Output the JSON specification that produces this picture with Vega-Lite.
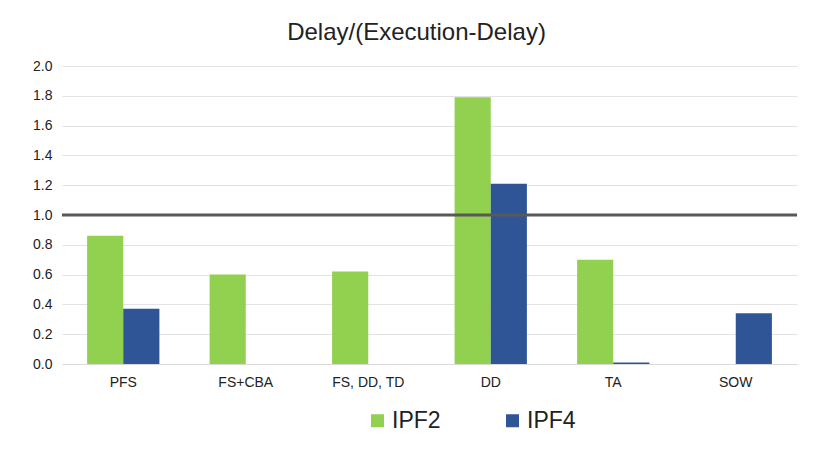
{
  "$schema": "https://vega.github.io/schema/vega-lite/v6.json",
  "autosize": "none",
  "width": 735,
  "height": 298,
  "padding": {"left": 62, "top": 66, "right": 19, "bottom": 86},
  "background": "white",
  "title": {"text": "Delay/(Execution-Delay)", "font": "Liberation Sans", "fontSize": 24, "fontWeight": "normal", "color": "#222222", "anchor": "middle", "offset": 14, "dx": -13},
  "config": {"view": {"stroke": null}, "font": "Liberation Sans"},
  "data": {"values": [
    {"cat": "PFS", "series": "IPF2", "value": 0.86},
    {"cat": "PFS", "series": "IPF4", "value": 0.37},
    {"cat": "FS+CBA", "series": "IPF2", "value": 0.60},
    {"cat": "FS+CBA", "series": "IPF4", "value": 0},
    {"cat": "FS, DD, TD", "series": "IPF2", "value": 0.62},
    {"cat": "FS, DD, TD", "series": "IPF4", "value": 0},
    {"cat": "DD", "series": "IPF2", "value": 1.79},
    {"cat": "DD", "series": "IPF4", "value": 1.21},
    {"cat": "TA", "series": "IPF2", "value": 0.70},
    {"cat": "TA", "series": "IPF4", "value": 0.01},
    {"cat": "SOW", "series": "IPF2", "value": 0},
    {"cat": "SOW", "series": "IPF4", "value": 0.34}
  ]},
  "encoding": {
    "y": {"field": "value", "type": "quantitative",
      "scale": {"domain": [0, 2.0], "nice": false},
      "axis": {"title": null, "tickCount": 20, "values": [0, 0.2, 0.4, 0.6, 0.8, 1.0, 1.2, 1.4, 1.6, 1.8, 2.0], "format": ".1f", "labelOverlap": false, "labelFontSize": 14, "labelColor": "#222222", "labelPadding": 10, "ticks": false, "domain": false, "gridColor": "#e3e3e3", "gridWidth": 1}}
  },
  "layer": [
    {
      "mark": {"type": "bar"},
      "encoding": {
        "x": {"field": "cat", "type": "nominal", "sort": null,
          "scale": {"paddingInner": 0.41, "paddingOuter": 0.205},
          "axis": {"title": null, "labelAngle": 0, "labelFontSize": 14, "labelColor": "#222222", "labelPadding": 11, "ticks": false, "domainColor": "#d9d9d9", "domainWidth": 1}},
        "xOffset": {"field": "series", "type": "nominal"},
        "color": {"field": "series", "type": "nominal",
          "scale": {"domain": ["IPF2", "IPF4"], "range": ["#92D050", "#2F5597"]},
          "legend": {"title": null, "orient": "none", "legendX": 304, "legendY": 343, "direction": "horizontal", "symbolType": "square", "symbolSize": 169, "labelFontSize": 23, "labelColor": "#222222", "columnPadding": 60, "labelOffset": 3}}
      }
    },
    {
      "data": {"values": [{"value": 1.0}]},
      "mark": {"type": "rule", "color": "#595959", "strokeWidth": 3},
      "encoding": {}
    }
  ]
}
